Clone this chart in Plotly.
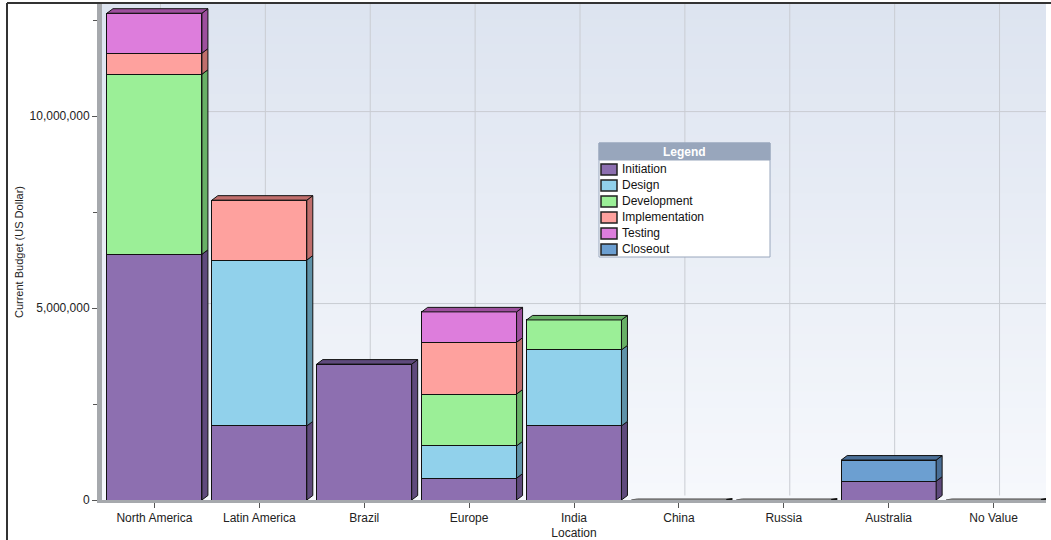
import plotly.graph_objects as go

categories = ["North America", "Latin America", "Brazil", "Europe", "India",
              "China", "Russia", "Australia", "No Value"]
series_names = ["Initiation", "Design", "Development", "Implementation", "Testing", "Closeout"]
initiation = [6.40e6, 1.93e6, 3.54e6, 0.57e6, 1.93e6, 0, 0, 0.49e6, 0]
design = [0, 4.32e6, 0, 0.84e6, 1.98e6, 0, 0, 0, 0]
development = [4.69e6, 0, 0, 1.35e6, 0.78e6, 0, 0, 0, 0]
implementation = [0.55e6, 1.56e6, 0, 1.35e6, 0, 0, 0, 0, 0]
testing = [1.04e6, 0, 0, 0.79e6, 0, 0, 0, 0, 0]
closeout = [0, 0, 0, 0, 0, 0, 0, 0.55e6, 0]
series_values = [initiation, design, development, implementation, testing, closeout]

colors = ["#8d6fb0", "#91d1eb", "#9bef97", "#fea19e", "#dd7ddc", "#6c9fd1"]
side_colors = ["#5f4a7c", "#5f92a8", "#68b066", "#c06e6c", "#9d4f9d", "#4a6f97"]

W_FIG, H_FIG = 1051, 540
L, R, T, B = 102, 5, 4, 40
PW, PH = W_FIG - L - R, H_FIG - T - B
YMAX = 12.92e6

def px_x(p):
    return (p - L) / PW

def px_y(p):
    return (H_FIG - B - p) / PH

xs = list(range(len(categories)))
BW = 0.905
DX = 6 / (PW / len(categories))
DY = 4.5 * YMAX / PH

fig = go.Figure()
for name, vals, col in zip(series_names, series_values, colors):
    fig.add_trace(go.Bar(
        x=xs, y=vals, name=name, width=BW,
        marker=dict(color=col, line=dict(color="#111111", width=1)),
        showlegend=False,
    ))

shapes = []
# background gradient
N = 60
top_c = (0xdd, 0xe4, 0xf0)
bot_c = (0xf6, 0xf8, 0xfc)
for k in range(N):
    t = k / (N - 1)
    c = tuple(round(top_c[j] + (bot_c[j] - top_c[j]) * t) for j in range(3))
    shapes.append(dict(type="rect", xref="paper", yref="paper", x0=0, x1=1,
                       y0=1 - (k + 1) / N, y1=1 - k / N + 0.002, layer="below",
                       fillcolor="rgb(%d,%d,%d)" % c, line=dict(width=0)))
# back-wall gridlines (offset for depth)
for i in xs:
    shapes.append(dict(type="line", xref="x", yref="y", x0=i + DX, x1=i + DX,
                       y0=DY, y1=YMAX, layer="below",
                       line=dict(color="#c9ccd2", width=1)))
for v in [5e6, 10e6]:
    shapes.append(dict(type="line", xref="x", yref="y", x0=-0.5 + DX, x1=8.5,
                       y0=v + DY, y1=v + DY, layer="below",
                       line=dict(color="#c9ccd2", width=1)))

# 3D side and top faces computed from the stacked data
for i in xs:
    base = 0.0
    top_idx = None
    for s, vals in enumerate(series_values):
        if vals[i] > 0:
            top_idx = s
    for s, vals in enumerate(series_values):
        v = vals[i]
        if v <= 0:
            continue
        y0, y1 = base, base + v
        xr = i + BW / 2
        xl = i - BW / 2
        shapes.append(dict(
            type="path", xref="x", yref="y", layer="above",
            path=f"M{xr},{y0} L{xr + DX},{y0 + DY} L{xr + DX},{y1 + DY} L{xr},{y1} Z",
            fillcolor=side_colors[s], line=dict(color="#111111", width=1)))
        if s == top_idx:
            shapes.append(dict(
                type="path", xref="x", yref="y", layer="above",
                path=f"M{xl},{y1} L{xl + DX},{y1 + DY} L{xr + DX},{y1 + DY} L{xr},{y1} Z",
                fillcolor=side_colors[s], line=dict(color="#111111", width=1)))
        base = y1
    if top_idx is None:
        xr = i + BW / 2
        xl = i - BW / 2
        shapes.append(dict(
            type="path", xref="x", yref="y", layer="above",
            path=f"M{xl},0 L{xl + DX},{DY * 0.25} L{xr + DX},{DY * 0.25} L{xr},0 Z",
            fillcolor="#9a9a9a", line=dict(color="#666666", width=1)))
        shapes.append(dict(
            type="line", xref="x", yref="y", layer="above",
            x0=xr, x1=xr + DX, y0=0, y1=DY * 0.25,
            line=dict(color="#111111", width=2)))

# outer frame
shapes.append(dict(type="line", xref="paper", yref="paper", x0=px_x(7), x1=px_x(7),
                   y0=px_y(3), y1=px_y(545), line=dict(color="#333333", width=2)))
shapes.append(dict(type="line", xref="paper", yref="paper", x0=px_x(7), x1=px_x(1055),
                   y0=px_y(3), y1=px_y(3), line=dict(color="#333333", width=2)))

# custom legend box
LX0, LX1, LY0, LY1 = 599, 770, 143, 257
shapes.append(dict(type="rect", xref="paper", yref="paper", x0=px_x(LX0), x1=px_x(LX1),
                   y0=px_y(LY1), y1=px_y(LY0), fillcolor="white",
                   line=dict(color="#98a6bc", width=1), layer="above"))
shapes.append(dict(type="rect", xref="paper", yref="paper", x0=px_x(LX0), x1=px_x(LX1),
                   y0=px_y(160), y1=px_y(LY0), fillcolor="#98a6bc",
                   line=dict(color="#98a6bc", width=1), layer="above"))
annotations = [dict(text="<b>Legend</b>", xref="paper", yref="paper",
                    x=px_x((LX0 + LX1) / 2), y=px_y(152), showarrow=False,
                    font=dict(family="Liberation Sans, Arial", size=12, color="white"),
                    xanchor="center", yanchor="middle")]
for k, (name, col) in enumerate(zip(series_names, colors)):
    cy = 169 + 16 * k
    shapes.append(dict(type="rect", xref="paper", yref="paper",
                       x0=px_x(601), x1=px_x(617), y0=px_y(cy + 6), y1=px_y(cy - 5),
                       fillcolor=col, line=dict(color="#222222", width=1.5), layer="above"))
    annotations.append(dict(text=name, xref="paper", yref="paper", x=px_x(620),
                            y=px_y(cy), showarrow=False, xanchor="left", yanchor="middle",
                            font=dict(family="Liberation Sans, Arial", size=12, color="#111111")))

fig.update_layout(
    width=W_FIG, height=H_FIG,
    margin=dict(l=L, r=R, t=T, b=B, autoexpand=False),
    barmode="stack",
    paper_bgcolor="white",
    plot_bgcolor="rgba(0,0,0,0)",
    font=dict(family="Liberation Sans, Arial", size=12, color="#222222"),
    shapes=shapes,
    annotations=annotations,
    showlegend=False,
)
fig.update_xaxes(
    range=[-0.5, 8.5], tickvals=xs, ticktext=categories,
    showgrid=False, zeroline=False,
    showline=True, linecolor="#a6a9ad", linewidth=3,
    ticks="outside", ticklen=5, tickcolor="#555555",
    tickfont=dict(size=12, color="#222222"),
    title=dict(text="Location", standoff=19, font=dict(size=12, color="#222222")),
    automargin=False,
)
fig.update_yaxes(
    range=[0, YMAX], tickvals=[0, 5e6, 10e6], tickformat=",d",
    showgrid=False, zeroline=False,
    showline=True, linecolor="#a6a9ad", linewidth=5,
    ticks="outside", ticklen=5, tickcolor="#555555",
    minor=dict(tickvals=[2.5e6, 7.5e6, 12.5e6], ticks="outside", ticklen=4, tickcolor="#555555"),
    tickfont=dict(size=12, color="#222222"),
    title=dict(text="Current Budget (US Dollar)", standoff=5, font=dict(size=11, color="#222222")),
    automargin=False,
)

fig.write_html("out.html", config={"displayModeBar": False},
               post_script="document.body.style.margin='0';document.body.style.overflow='hidden';")
